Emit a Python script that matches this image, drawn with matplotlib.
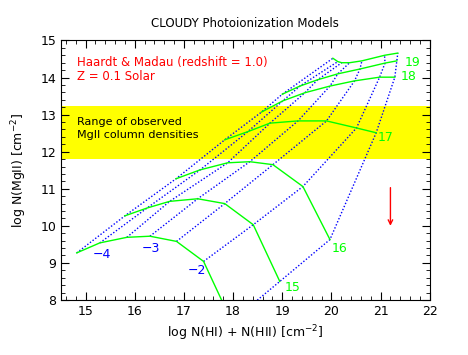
import numpy as np
import matplotlib
matplotlib.use("Agg")
import matplotlib.pyplot as plt
from matplotlib.ticker import MultipleLocator

# ionization parameter grid (log U) for the blue lines
log_u = [-4, -3.75, -3.5, -3.25, -3, -2, -1]

# green curves: constant log N(HI), nodes ordered by log U
nhi_14_x = [14.82, 15.29, 15.84, 16.31, 16.85, 17.40, 17.97]
nhi_14_y = [9.27, 9.54, 9.69, 9.72, 9.58, 9.04, 7.42]
nhi_15_x = [15.80, 16.25, 16.71, 17.28, 17.83, 18.41, 18.95]
nhi_15_y = [10.27, 10.48, 10.66, 10.73, 10.60, 10.03, 8.50]
nhi_16_x = [16.84, 17.33, 17.89, 18.34, 18.81, 19.42, 19.97]
nhi_16_y = [11.27, 11.51, 11.70, 11.73, 11.65, 11.06, 9.63]
nhi_17_x = [17.83, 18.30, 18.75, 19.32, 19.90, 20.51, 20.91]
nhi_17_y = [12.32, 12.54, 12.77, 12.83, 12.83, 12.64, 12.51]
nhi_18_x = [18.58, 19.01, 19.46, 19.97, 20.47, 20.98, 21.29]
nhi_18_y = [13.07, 13.37, 13.59, 13.77, 13.91, 14.01, 14.01]
nhi_19_x = [19.00, 19.36, 19.72, 20.13, 20.58, 21.09, 21.33]
nhi_19_y = [13.55, 13.77, 13.94, 14.10, 14.23, 14.39, 14.45]
nhi_20_x = [20.03, 20.13, 20.21, 20.37, 20.62, 21.08, 21.35]
nhi_20_y = [14.52, 14.43, 14.40, 14.40, 14.45, 14.60, 14.66]

curves_x = [nhi_14_x, nhi_15_x, nhi_16_x, nhi_17_x, nhi_18_x, nhi_19_x, nhi_20_x]
curves_y = [nhi_14_y, nhi_15_y, nhi_16_y, nhi_17_y, nhi_18_y, nhi_19_y, nhi_20_y]

# observed MgII range
obs_lo, obs_hi = 11.80, 13.22

# labels
u_labels = ['\u22124', '\u22123', '\u22122']
u_label_x = [15.33, 16.33, 17.27]
u_label_y = [9.22, 9.40, 8.80]
nhi_labels = ['15', '16', '17', '18', '19']
nhi_label_x = [19.22, 20.17, 21.10, 21.56, 21.66]
nhi_label_y = [8.33, 9.40, 12.38, 14.03, 14.41]

# upper-limit arrow
arrow_x = 21.2
arrow_top, arrow_bot = 11.03, 10.0

fig = plt.figure(figsize=(4.68, 3.55), dpi=100)
ax = fig.add_axes([0.1303, 0.155, 0.788, 0.731])

ax.axhspan(obs_lo, obs_hi, color='#ffff00', lw=0, zorder=0)

cx = np.array(curves_x)
cy = np.array(curves_y)
for j in range(len(log_u)):
    ax.plot(cx[:, j], cy[:, j], color='#0000ff', lw=1.0,
            linestyle=(0, (1, 1.4)), zorder=2)
for x, y in zip(curves_x, curves_y):
    ax.plot(x, y, color='#00ff00', lw=1.0, zorder=3)

for t, x, y in zip(u_labels, u_label_x, u_label_y):
    ax.text(x, y, t, color='#0000ff', fontsize=9, ha='center', va='center')
for t, x, y in zip(nhi_labels, nhi_label_x, nhi_label_y):
    ax.text(x, y, t, color='#00ff00', fontsize=9, ha='center', va='center')

ax.annotate('', xy=(arrow_x, arrow_bot), xytext=(arrow_x, arrow_top),
            arrowprops=dict(arrowstyle='->', color='red', lw=1.0,
                            mutation_scale=8, shrinkA=0, shrinkB=0))

ax.text(14.82, 14.40, 'Haardt & Madau (redshift = 1.0)', color='red', fontsize=8.5,
        va='center')
ax.text(14.82, 14.02, 'Z = 0.1 Solar', color='red', fontsize=8.5, va='center')
ax.text(14.82, 12.80, 'Range of observed', color='black', fontsize=8, va='center')
ax.text(14.82, 12.46, 'MgII column densities', color='black', fontsize=8, va='center')

ax.set_xlim(14.5, 22)
ax.set_ylim(8, 15)
ax.xaxis.set_major_locator(MultipleLocator(1))
ax.yaxis.set_major_locator(MultipleLocator(1))
ax.xaxis.set_minor_locator(MultipleLocator(0.2))
ax.yaxis.set_minor_locator(MultipleLocator(0.2))
ax.tick_params(which='both', direction='in', top=True, right=True, labelsize=9)
ax.tick_params(which='major', length=6)
ax.tick_params(which='minor', length=3)

ax.set_xlabel('log N(HI) + N(HII) [cm$^{-2}$]', fontsize=9)
ax.set_ylabel('log N(MgII) [cm$^{-2}$]', fontsize=9, labelpad=8)
ax.set_title('CLOUDY Photoionization Models', fontsize=8.5, pad=10)

fig.savefig('out.png', dpi=100)
